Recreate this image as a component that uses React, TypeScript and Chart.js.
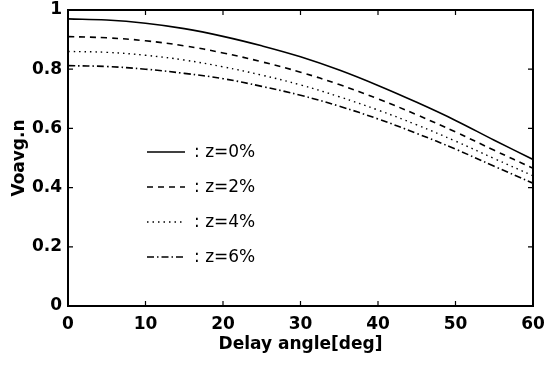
import React, { useEffect, useRef } from "react";
import { Chart, registerables } from "chart.js";

Chart.register(...registerables);

const angles = [0, 5, 10, 15, 20, 25, 30, 35, 40, 45, 50, 55, 60];
const z0 = [0.970, 0.966, 0.955, 0.937, 0.911, 0.879, 0.842, 0.797, 0.745, 0.688, 0.627, 0.560, 0.495];
const z2 = [0.910, 0.906, 0.896, 0.879, 0.855, 0.825, 0.790, 0.748, 0.700, 0.646, 0.588, 0.526, 0.465];
const z4 = [0.860, 0.857, 0.847, 0.831, 0.808, 0.780, 0.747, 0.707, 0.662, 0.612, 0.557, 0.498, 0.440];
const z6 = [0.812, 0.809, 0.800, 0.786, 0.768, 0.742, 0.712, 0.675, 0.632, 0.583, 0.530, 0.472, 0.415];
const seriesLabels = [": z=0%", ": z=2%", ": z=4%", ": z=6%"];
const xTicks = [0, 10, 20, 30, 40, 50, 60];
const yTicks = [0, 0.2, 0.4, 0.6, 0.8, 1];

const dashes: number[][] = [[], [6, 5], [1.5, 4], [7, 3, 1.5, 3]];
const widths = [1.6, 1.6, 1.4, 1.6];
const boldFont = "'DejaVu Sans', Arial, sans-serif";

const boxPlugin = {
  id: "box",
  afterDraw(chart: any) {
    const { ctx, chartArea: a, scales } = chart;
    ctx.save();
    ctx.strokeStyle = "#000";
    ctx.lineWidth = 2;
    ctx.strokeRect(a.left, a.top, a.right - a.left, a.bottom - a.top);
    ctx.lineWidth = 1.2;
    const tl = 5;
    for (const v of xTicks) {
      const x = scales.x.getPixelForValue(v);
      ctx.beginPath();
      ctx.moveTo(x, a.bottom);
      ctx.lineTo(x, a.bottom - tl);
      ctx.moveTo(x, a.top);
      ctx.lineTo(x, a.top + tl);
      ctx.stroke();
    }
    for (const v of yTicks) {
      const y = scales.y.getPixelForValue(v);
      ctx.beginPath();
      ctx.moveTo(a.left, y);
      ctx.lineTo(a.left + tl, y);
      ctx.moveTo(a.right, y);
      ctx.lineTo(a.right - tl, y);
      ctx.stroke();
    }
    // legend
    const lx0 = a.left + 79;
    const lx1 = a.left + 117;
    const ty = a.top + 142;
    const step = 35;
    ctx.font = "17px 'DejaVu Sans', Arial, sans-serif";
    ctx.fillStyle = "#000";
    ctx.textBaseline = "middle";
    ctx.textAlign = "left";
    for (let i = 0; i < 4; i++) {
      const y = ty + i * step;
      ctx.setLineDash(dashes[i]);
      ctx.lineWidth = widths[i];
      ctx.beginPath();
      ctx.moveTo(lx0, y);
      ctx.lineTo(lx1, y);
      ctx.stroke();
      ctx.setLineDash([]);
      ctx.fillText(seriesLabels[i], lx1 + 9, y + 1);
    }
    ctx.restore();
  },
};

export default function App() {
  const ref = useRef<HTMLCanvasElement>(null);
  useEffect(() => {
    document.body.style.margin = "0";
    const series = [z0, z2, z4, z6];
    const chart = new Chart(ref.current!, {
      type: "line",
      data: {
        datasets: series.map((s, i) => ({
          label: seriesLabels[i],
          data: angles.map((a, j) => ({ x: a, y: s[j] })),
          borderColor: "#000",
          borderWidth: widths[i],
          borderDash: dashes[i],
          pointRadius: 0,
          tension: 0.4,
          fill: false,
        })),
      },
      options: {
        animation: false,
        responsive: false,
        layout: { padding: { left: 0, right: 11, top: 10, bottom: 12 } },
        plugins: { legend: { display: false }, tooltip: { enabled: false } },
        scales: {
          x: {
            type: "linear",
            min: 0,
            max: 60,
            grid: { display: false, drawTicks: false },
            border: { display: false },
            ticks: {
              stepSize: 10,
              padding: 8,
              color: "#000",
              font: { family: boldFont, size: 17, weight: "bold" },
              maxRotation: 0,
            },
            title: {
              display: true,
              text: "Delay angle[deg]",
              color: "#000",
              font: { family: boldFont, size: 17, weight: "bold" },
              padding: { top: 2, bottom: 0 },
            },
            afterFit(s: any) {
              s.height = 49;
              s.paddingLeft = 0;
              s.paddingRight = 0;
            },
          },
          y: {
            min: 0,
            max: 1,
            grid: { display: false, drawTicks: false },
            border: { display: false },
            ticks: {
              stepSize: 0.2,
              padding: 6,
              color: "#000",
              font: { family: boldFont, size: 17, weight: "bold" },
              callback: (v: any) => (v === 0 || v === 1 ? String(v) : Number(v).toFixed(1)),
            },
            title: {
              display: true,
              text: "Voavg.n",
              color: "#000",
              font: { family: boldFont, size: 17, weight: "bold" },
              padding: { top: 9, bottom: 0 },
            },
            afterFit(s: any) {
              s.width = 68;
              s.paddingTop = 0;
              s.paddingBottom = 0;
            },
          },
        },
      },
      plugins: [boxPlugin],
    });
    return () => chart.destroy();
  }, []);
  return (
    <div style={{ position: "fixed", left: 0, top: 0, width: 544, height: 367, background: "#fff" }}>
      <canvas ref={ref} width={544} height={367} />
    </div>
  );
}
